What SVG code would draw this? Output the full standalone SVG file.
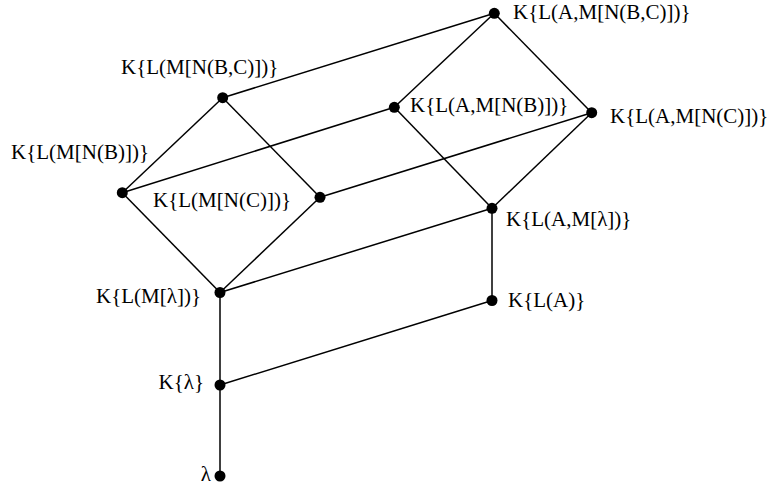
<svg xmlns="http://www.w3.org/2000/svg" width="768" height="486" viewBox="0 0 768 486">
<style>
.e{stroke:#000;stroke-width:1.5;fill:none}
.d{fill:#000}
text{font-family:"Liberation Serif","Times New Roman",serif;font-size:21px;fill:#000}
.r{text-anchor:end}
</style>
<rect width="768" height="486" fill="#fff"/>
<g id="connectors">
<line class="e" x1="220" y1="476" x2="220" y2="385"/>
<line class="e" x1="220" y1="385" x2="220" y2="292.5"/>
<line class="e" x1="220" y1="385" x2="492" y2="300.5"/>
<line class="e" x1="492" y1="300.5" x2="492" y2="208.3"/>
<line class="e" x1="220" y1="292.5" x2="492" y2="208.3"/>
<line class="e" x1="220" y1="292.5" x2="122.3" y2="192.7"/>
<line class="e" x1="220" y1="292.5" x2="320" y2="197.3"/>
<line class="e" x1="122.3" y1="192.7" x2="222.7" y2="97.7"/>
<line class="e" x1="320" y1="197.3" x2="222.7" y2="97.7"/>
<line class="e" x1="122.3" y1="192.7" x2="394.3" y2="107.3"/>
<line class="e" x1="320" y1="197.3" x2="591.7" y2="112.7"/>
<line class="e" x1="222.7" y1="97.7" x2="494.3" y2="13.3"/>
<line class="e" x1="492" y1="208.3" x2="394.3" y2="107.3"/>
<line class="e" x1="492" y1="208.3" x2="591.7" y2="112.7"/>
<line class="e" x1="394.3" y1="107.3" x2="494.3" y2="13.3"/>
<line class="e" x1="591.7" y1="112.7" x2="494.3" y2="13.3"/>
</g>
<g id="n-lambda"><circle class="d" cx="220" cy="476" r="5.5"/><text class="r" x="211" y="481">λ</text></g>
<g id="n-Klambda"><circle class="d" cx="220" cy="385" r="5.5"/><text class="r" x="204" y="389">K{λ}</text></g>
<g id="n-KLMlambda"><circle class="d" cx="220" cy="292.5" r="5.5"/><text class="r" x="201" y="303">K{L(M[λ])}</text></g>
<g id="n-KLA"><circle class="d" cx="492" cy="300.5" r="5.5"/><text x="508" y="306.5">K{L(A)}</text></g>
<g id="n-KLAMlambda"><circle class="d" cx="492" cy="208.3" r="5.5"/><text x="506" y="226">K{L(A,M[λ])}</text></g>
<g id="n-KLMNB"><circle class="d" cx="122.3" cy="192.7" r="5.5"/><text x="11" y="159">K{L(M[N(B)])}</text></g>
<g id="n-KLMNC"><circle class="d" cx="320" cy="197.3" r="5.5"/><text x="153" y="206.5">K{L(M[N(C)])}</text></g>
<g id="n-KLMNBC"><circle class="d" cx="222.7" cy="97.7" r="5.5"/><text x="121" y="74">K{L(M[N(B,C)])}</text></g>
<g id="n-KLAMNB"><circle class="d" cx="394.3" cy="107.3" r="5.5"/><text x="410" y="111.5">K{L(A,M[N(B)])}</text></g>
<g id="n-KLAMNC"><circle class="d" cx="591.7" cy="112.7" r="5.5"/><text x="610" y="122.5">K{L(A,M[N(C)])}</text></g>
<g id="n-KLAMNBC"><circle class="d" cx="494.3" cy="13.3" r="5.5"/><text x="513" y="18.5">K{L(A,M[N(B,C)])}</text></g>
</svg>
